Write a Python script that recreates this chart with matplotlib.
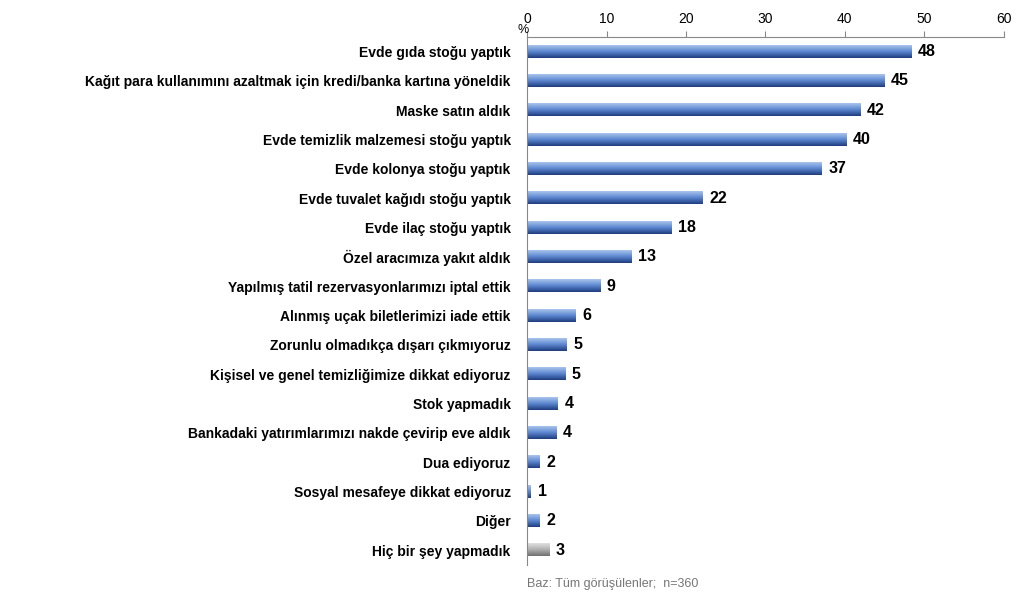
import matplotlib
matplotlib.use("Agg")
import matplotlib.pyplot as plt
import numpy as np
from matplotlib.colors import LinearSegmentedColormap

categories = ["Evde gıda stoğu yaptık",
 "Kağıt para kullanımını azaltmak için kredi/banka kartına yöneldik",
 "Maske satın aldık", "Evde temizlik malzemesi stoğu yaptık",
 "Evde kolonya stoğu yaptık", "Evde tuvalet kağıdı stoğu yaptık",
 "Evde ilaç stoğu yaptık", "Özel aracımıza yakıt aldık",
 "Yapılmış tatil rezervasyonlarımızı iptal ettik",
 "Alınmış uçak biletlerimizi iade ettik",
 "Zorunlu olmadıkça dışarı çıkmıyoruz",
 "Kişisel ve genel temizliğimize dikkat ediyoruz",
 "Stok yapmadık", "Bankadaki yatırımlarımızı nakde çevirip eve aldık",
 "Dua ediyoruz", "Sosyal mesafeye dikkat ediyoruz", "Diğer", "Hiç bir şey yapmadık"]
values = [48.4, 45.0, 42.0, 40.2, 37.1, 22.1, 18.2, 13.2, 9.2, 6.1, 5.0, 4.8, 3.9, 3.7, 1.6, 0.5, 1.6, 2.8]
labels = ["48","45","42","40","37","22","18","13","9","6","5","5","4","4","2","1","2","3"]

plt.rcParams['font.family'] = ['Liberation Sans', 'DejaVu Sans']
fig = plt.figure(figsize=(10.24, 6.02), dpi=100)
ax = fig.add_axes([0.515, 0.062, 0.465, 0.877])
n = len(categories)
ys = np.arange(n)
blue = LinearSegmentedColormap.from_list("b", ["#a9c4ec", "#5b86cf", "#1f3d80"])
gray = LinearSegmentedColormap.from_list("g", ["#e0e0e0", "#b0b0b0", "#707070"])
grad = np.linspace(0, 1, 50).reshape(-1, 1)
h = 0.42
for y, v, lab in zip(ys, values, labels):
    cm = gray if y == n - 1 else blue
    ax.imshow(grad, extent=[0, v, y + h / 2, y - h / 2], cmap=cm, aspect='auto', zorder=2)
    ax.text(v + 0.8, y, lab, va='center', ha='left', fontsize=11.5, fontweight='bold')
ax.set_xlim(0, 60)
ax.set_ylim(n - 0.5, -0.5)
ax.set_yticks(ys)
ax.set_yticklabels(categories, fontsize=10, fontweight='bold')
ax.tick_params(axis='y', length=0, pad=12)
ax.xaxis.tick_top()
ax.set_xticks(range(0, 61, 10))
ax.tick_params(axis='x', direction='out', length=4, labelsize=10, color='#888888')
for s in ['right', 'bottom']:
    ax.spines[s].set_visible(False)
ax.spines['top'].set_color('#888888')
ax.spines['left'].set_color('#888888')
fig.text(0.505, 0.945, "%", fontsize=9)
fig.text(0.515, 0.025, "Baz: Tüm görüşülenler;  n=360", fontsize=9, color='#777777')
fig.savefig("out.png", dpi=100)
